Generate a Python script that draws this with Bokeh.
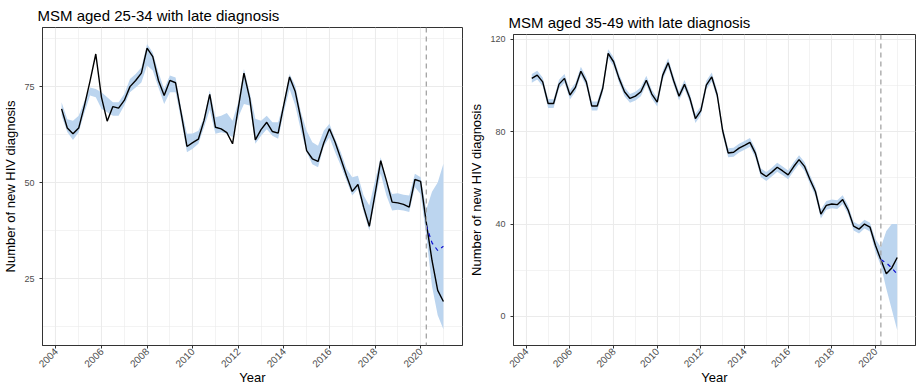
import math

from bokeh.embed import file_html
from bokeh.layouts import column, row
from bokeh.models import ColumnDataSource, FixedTicker, Range1d, Span
from bokeh.plotting import figure
from bokeh.resources import INLINE

# Quarterly time axis: Q1 2004 is plotted at 2004.25, Q4 2020 at 2021.0
quarters = [year + q / 4 for year in range(2004, 2021) for q in range(1, 5)]
intervention = 2020.25
cf_quarters = [2020.25, 2020.5, 2020.75, 2021.0]

year_ticks = [2004, 2006, 2008, 2010, 2012, 2014, 2016, 2018, 2020]
year_minor = [2005, 2007, 2009, 2011, 2013, 2015, 2017, 2019, 2021]
year_labels = ["2004", "2006", "2008", "2010", "2012", "2014", "2016", "2018", "2020"]

# MSM aged 25-34, late diagnosis
late_25_34 = [
    69.2, 64.2, 62.7, 64.2, 70.0, 76.5, 83.5, 72.2, 66.0, 69.8,
    69.4, 71.4, 75.0, 76.6, 78.5, 85.0, 82.8, 76.6, 72.7, 76.6,
    76.0, 67.9, 59.4, 60.4, 61.3, 66.2, 73.0, 64.4, 64.0, 63.0,
    60.1, 69.4, 78.5, 72.0, 61.1, 63.8, 65.7, 63.3, 62.9, 70.3,
    77.5, 73.7, 66.5, 58.3, 56.2, 55.5, 60.3, 64.0, 60.5, 56.2,
    51.8, 47.7, 49.5, 43.6, 38.6, 47.0, 55.7, 50.5, 44.9, 44.7,
    44.3, 43.6, 50.8, 50.3, 39.5, 29.7, 21.9, 19.0,
]
upper_25_34 = [
    70.9, 66.5, 66.1, 67.4, 71.2, 74.8, 74.4, 73.5, 72.2, 70.9,
    70.9, 73.1, 77.0, 78.3, 80.0, 86.1, 83.9, 78.7, 74.4, 77.9,
    77.4, 69.2, 62.7, 62.8, 63.5, 67.0, 74.0, 67.0, 67.4, 68.1,
    66.1, 70.9, 79.6, 73.5, 66.6, 66.1, 67.4, 65.7, 65.7, 70.9,
    78.3, 75.3, 68.3, 63.5, 60.5, 59.6, 63.5, 65.3, 61.4, 57.9,
    53.6, 51.4, 51.8, 46.6, 44.0, 50.5, 56.6, 50.1, 47.0, 47.2,
    46.8, 46.6, 52.3, 51.4, 43.0, 47.6, 50.0, 54.9,
]
lower_25_34 = [
    67.4, 63.2, 61.1, 63.1, 68.2, 72.7, 72.2, 69.2, 68.3, 67.4,
    67.4, 70.1, 73.5, 74.8, 76.1, 80.5, 79.2, 74.8, 70.5, 73.5,
    73.5, 66.1, 57.9, 58.8, 60.1, 64.4, 69.0, 62.7, 63.1, 62.7,
    61.8, 67.0, 70.5, 70.1, 60.1, 62.2, 63.9, 62.2, 61.4, 68.3,
    74.4, 70.1, 63.5, 57.9, 54.8, 54.0, 59.4, 61.8, 57.9, 54.4,
    50.5, 46.6, 48.4, 42.3, 37.5, 45.3, 52.3, 46.6, 42.7, 42.9,
    42.7, 42.3, 48.8, 47.0, 36.0, 23.0, 15.4, 11.8,
]
counterfactual_25_34 = [38.8, 34.3, 32.3, 33.4]

# MSM aged 35-49, late diagnosis
late_35_49 = [
    103.1, 104.5, 101.6, 92.2, 92.2, 100.6, 103.1, 95.9, 99.2, 106.2,
    101.6, 91.1, 91.1, 98.7, 113.9, 110.3, 103.1, 97.3, 94.4, 95.4,
    97.3, 102.3, 96.3, 92.8, 104.4, 109.9, 102.2, 95.4, 100.5, 94.4,
    85.7, 89.1, 100.2, 103.7, 95.9, 80.4, 70.8, 71.1, 72.9, 74.1,
    75.4, 70.6, 62.2, 60.6, 62.5, 64.6, 63.0, 61.3, 64.8, 67.9,
    65.0, 59.3, 54.1, 44.3, 48.1, 48.7, 48.4, 50.6, 46.1, 39.1,
    37.8, 40.0, 38.7, 30.8, 24.5, 18.5, 21.0, 25.5,
]
upper_35_49 = [
    105.0, 106.4, 103.5, 94.2, 94.1, 102.5, 105.0, 97.9, 101.1, 108.1,
    103.6, 93.1, 93.1, 100.6, 115.7, 112.2, 105.0, 99.2, 96.3, 97.3,
    99.2, 104.2, 98.2, 94.7, 106.3, 111.8, 104.1, 97.3, 102.4, 96.3,
    87.7, 91.0, 102.1, 105.6, 97.8, 82.3, 72.8, 73.0, 74.8, 76.0,
    77.3, 72.6, 64.1, 62.5, 64.4, 66.5, 64.9, 63.2, 66.7, 69.8,
    66.9, 61.2, 56.0, 46.3, 50.0, 50.6, 50.3, 52.5, 48.0, 41.0,
    39.7, 41.9, 40.6, 33.5, 30.0, 37.0, 40.0, 40.0,
]
lower_35_49 = [
    101.2, 102.6, 99.7, 90.3, 90.3, 98.7, 101.2, 94.0, 97.3, 104.3,
    99.7, 89.2, 89.2, 96.8, 111.9, 108.4, 101.2, 95.4, 92.5, 93.5,
    95.4, 100.4, 94.4, 90.9, 102.5, 108.0, 100.3, 93.5, 98.6, 92.5,
    83.8, 87.2, 98.3, 101.8, 94.0, 78.5, 68.9, 69.2, 71.0, 72.2,
    73.5, 68.7, 60.3, 58.7, 60.6, 62.7, 61.1, 59.4, 62.9, 66.0,
    63.1, 57.4, 52.2, 42.4, 46.2, 46.8, 46.5, 48.7, 44.2, 37.2,
    35.9, 38.1, 36.8, 28.0, 22.0, 12.0, 3.0, -6.0,
]
counterfactual_35_49 = [24.6, 23.2, 21.0, 18.3]

FONT = "Liberation Sans"
GRID = "#EBEBEB"
RIBBON = "#BCD5EF"
X_START, X_END = 2003.4125, 2021.8375


def make_panel(title, observed, lower, upper, counterfactual, y_span, y_ticks,
               y_minor, width, border_left, border_right, border_top, border_bottom,
               title_standoff):
    p = figure(
        width=width, height=387, output_backend="svg", toolbar_location=None,
        x_range=Range1d(X_START, X_END), y_range=Range1d(*y_span),
        min_border_left=border_left, min_border_right=border_right,
        min_border_top=border_top, min_border_bottom=border_bottom,
        title=title,
    )
    p.title.text_font = FONT
    p.title.text_font_size = "15px"
    p.title.text_font_style = "normal"
    p.title.text_color = "black"
    p.title.text_line_height = 0.8
    p.title.standoff = title_standoff
    p.title.offset = -5

    src = ColumnDataSource(dict(x=quarters, y=observed, lo=lower, hi=upper))
    cf = ColumnDataSource(dict(x=cf_quarters, y=counterfactual))

    p.varea(x="x", y1="lo", y2="hi", source=src, fill_color=RIBBON, fill_alpha=1.0)
    p.line(x="x", y="y", source=src, line_color="black", line_width=1.4)
    p.line(x="x", y="y", source=cf, line_color="#1010D0", line_width=1.2,
           line_dash="4 4")
    p.add_layout(Span(location=intervention, dimension="height",
                      line_color="#A3A3A3", line_width=1.3, line_dash="5 4"))

    p.xaxis.ticker = FixedTicker(ticks=year_ticks, minor_ticks=year_minor)
    p.xaxis.major_label_overrides = dict(zip(year_ticks, year_labels))
    p.xaxis.major_label_orientation = math.pi / 4
    p.yaxis.ticker = FixedTicker(ticks=y_ticks, minor_ticks=y_minor)
    p.xaxis.axis_label = "Year"
    p.yaxis.axis_label = "Number of new HIV diagnosis"

    for ax in (p.xaxis[0], p.yaxis[0]):
        ax.axis_label_text_font = FONT
        ax.axis_label_text_font_size = "13px"
        ax.axis_label_text_font_style = "normal"
        ax.axis_label_text_color = "black"
        ax.major_label_text_font = FONT
        ax.major_label_text_color = "#4D4D4D"
        ax.axis_line_color = "#333333"
        ax.major_tick_line_color = "#333333"
        ax.major_tick_out = 3
        ax.major_tick_in = 0
        ax.minor_tick_out = 0
        ax.minor_tick_in = 0
    p.xaxis.major_label_text_font_size = "10px"
    p.xaxis.major_label_standoff = 1
    p.xaxis.axis_label_standoff = -4
    p.yaxis.major_label_text_font_size = "9px"
    p.yaxis.major_label_standoff = 5
    p.yaxis.axis_label_standoff = 3

    for g in (p.xgrid[0], p.ygrid[0]):
        g.grid_line_color = GRID
        g.grid_line_width = 1.1
        g.minor_grid_line_color = GRID
        g.minor_grid_line_width = 0.6

    p.outline_line_color = "#333333"
    p.outline_line_width = 1
    p.background_fill_color = "white"
    p.border_fill_color = "white"
    return p


left = make_panel(
    "MSM aged 25-34 with late diagnosis", late_25_34, lower_25_34, upper_25_34,
    counterfactual_25_34, (7.55, 90.4), [25, 50, 75], [12.5, 37.5, 62.5, 87.5],
    width=466, border_left=40, border_right=4, border_top=27, border_bottom=42,
    title_standoff=8,
)
right = make_panel(
    "MSM aged 35-49 with late diagnosis", late_35_49, lower_35_49, upper_35_49,
    counterfactual_35_49, (-12.6, 122.1), [0, 40, 80, 120], [20, 60, 100],
    width=450, border_left=44, border_right=1, border_top=34, border_bottom=41,
    title_standoff=8,
)

# each panel sits in its own column so the two frames keep their own borders
layout = row(column(left), column(right))
open("out.html", "w").write(file_html(layout, INLINE))
